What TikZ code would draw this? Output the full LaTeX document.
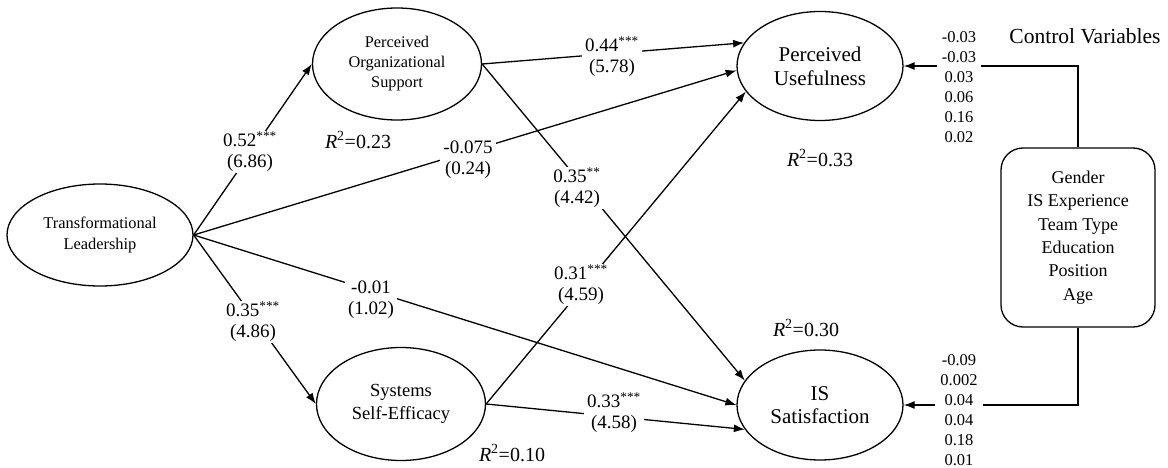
\documentclass[tikz,border=0pt]{standalone}
\usepackage{fontspec}
\setmainfont{Liberation Serif}
\usetikzlibrary{shapes.geometric,arrows.meta}
\begin{document}
\begin{tikzpicture}[x=1pt,y=-1pt,
  lat/.style={draw, ellipse, line width=1.3pt, inner sep=0pt, align=center},
  arr/.style={line width=1.3pt, -{Latex[length=11pt,width=8pt]}},
  lbl/.style={fill=white, inner xsep=3pt, inner ysep=1pt, align=center, font=\fontsize{19}{21}\selectfont},
  rsq/.style={font=\fontsize{20}{24}\selectfont, inner sep=0pt},
  nums/.style={fill=white, inner xsep=5pt, inner ysep=2pt, align=center, font=\fontsize{16.5}{20}\selectfont}]
\useasboundingbox (0,0) rectangle (1168,468);

% latent variables
\node[lat, minimum width=186pt, minimum height=102pt, font=\fontsize{16.4}{21}\selectfont] (TL) at (100,235) {Transformational\\Leadership};
\node[lat, minimum width=169pt, minimum height=112pt, font=\fontsize{16.3}{20}\selectfont] (POS) at (397,64) {Perceived\\Organizational\\Support};
\node[lat, minimum width=169pt, minimum height=113pt, font=\fontsize{18.5}{23}\selectfont] (SSE) at (401,404) {Systems\\Self-Efficacy};
\node[lat, minimum width=166pt, minimum height=109pt, font=\fontsize{21}{24}\selectfont] (PU) at (820,66) {Perceived\\Usefulness};
\node[lat, minimum width=166pt, minimum height=110pt, font=\fontsize{21}{23}\selectfont] (IS) at (820,405) {IS\\Satisfaction};

% control variables box
\node[draw, line width=1.3pt, rounded corners=22pt, minimum width=154pt, minimum height=179pt, align=center, font=\fontsize{18}{23.4}\selectfont] (ctrl) at (1078,237.5) {Gender\\IS Experience\\Team Type\\Education\\Position\\Age};
\node[font=\fontsize{21.5}{24}\selectfont, inner sep=0pt] (cvt) at (1085,36) {Control Variables};

% paths
\draw[arr] (TL.east) -- (POS.west);
\draw[arr] (TL.east) -- (SSE.west);
\draw[arr] (TL.east) -- (PU.183);
\draw[arr] (TL.east) -- (IS.west);
\draw[arr] (POS.east) -- (PU.163);
\draw[arr] (POS.east) -- (IS.162);
\draw[arr] (SSE.east) -- (PU.199);
\draw[arr] (SSE.east) -- (IS.198);
\draw[arr] (ctrl.north) |- (PU.east);
\draw[arr] (ctrl.south) |- (IS.east);

% control coefficients
\node[nums] (cvu) at (959,87) {-0.03\\-0.03\\0.03\\0.06\\0.16\\0.02};
\node[nums] (cvs) at (959,410) {-0.09\\0.002\\0.04\\0.04\\0.18\\0.01};

% path labels
\node[lbl] (l052) at (250,152) {0.52\textsuperscript{***}\\(6.86)};
\node[lbl] (l044) at (612,57) {0.44\textsuperscript{***}\\(5.78)};
\node[lbl] (l075) at (468,160) {-0.075\\(0.24)};
\node[lbl] (l035b) at (577,188) {0.35\textsuperscript{**}\\(4.42)};
\node[lbl] (l031) at (581,285) {0.31\textsuperscript{***}\\(4.59)};
\node[lbl] (l001) at (371,300) {-0.01\\(1.02)};
\node[lbl] (l035a) at (253,322) {0.35\textsuperscript{***}\\(4.86)};
\node[lbl] (l033) at (614,413) {0.33\textsuperscript{***}\\(4.58)};

% R squared
\node[rsq] (r23) at (358,140) {\textit{R}\textsuperscript{2}=0.23};
\node[rsq] (r33) at (820,158) {\textit{R}\textsuperscript{2}=0.33};
\node[rsq] (r30) at (806,328) {\textit{R}\textsuperscript{2}=0.30};
\node[rsq] (r10) at (512,453) {\textit{R}\textsuperscript{2}=0.10};
\end{tikzpicture}
\end{document}
